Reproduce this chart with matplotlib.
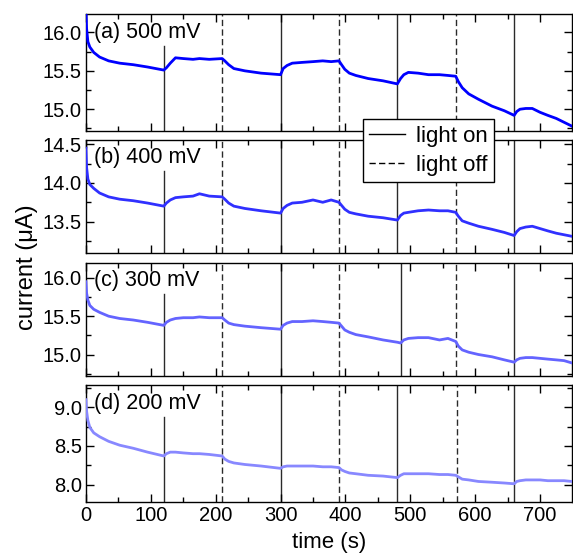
"""Photocurrent response of the electrode at four bias voltages.

Four stacked panels share the time axis; vertical lines mark the moments
the light was switched on (solid) and off (dashed).
"""

from __future__ import annotations

import matplotlib

matplotlib.use("Agg")

import matplotlib.pyplot as plt
from matplotlib.axes import Axes
from matplotlib.lines import Line2D
from matplotlib.ticker import MultipleLocator

# --- Data ------------------------------------------------------------------

TIME_S = [
    0, 1, 3, 6, 12, 21, 35, 52, 73, 95,
    120, 124, 130, 138, 150, 165, 175, 190, 210, 214,
    220, 228, 245, 270, 300, 304, 310, 318, 333, 350,
    365, 378, 390, 394, 399, 406, 416, 435, 458, 480,
    485, 490, 497, 512, 528, 545, 558, 570, 574, 580,
    590, 605, 626, 645, 660, 664, 669, 678, 688, 700,
    712, 725, 737, 749,
]

CURRENT_500MV = [
    16.30, 16.05, 15.88, 15.81, 15.74, 15.68, 15.63, 15.60, 15.58, 15.55,
    15.51, 15.54, 15.60, 15.67, 15.66, 15.65, 15.66, 15.65, 15.66, 15.63,
    15.58, 15.53, 15.50, 15.47, 15.45, 15.53, 15.57, 15.60, 15.61, 15.62,
    15.63, 15.62, 15.63, 15.58, 15.52, 15.47, 15.44, 15.40, 15.37, 15.33,
    15.40, 15.45, 15.48, 15.47, 15.45, 15.45, 15.44, 15.43, 15.36, 15.28,
    15.20, 15.13, 15.04, 14.98, 14.92, 14.97, 15.00, 15.01, 15.01, 14.96,
    14.92, 14.88, 14.83, 14.78,
]

CURRENT_400MV = [
    14.45, 14.20, 14.05, 13.98, 13.93, 13.87, 13.82, 13.79, 13.77, 13.74,
    13.70, 13.74, 13.78, 13.81, 13.82, 13.83, 13.86, 13.83, 13.82, 13.79,
    13.74, 13.70, 13.67, 13.64, 13.61, 13.67, 13.71, 13.74, 13.75, 13.78,
    13.75, 13.78, 13.75, 13.71, 13.66, 13.62, 13.60, 13.57, 13.55, 13.52,
    13.58, 13.61, 13.62, 13.64, 13.65, 13.64, 13.64, 13.62, 13.57, 13.51,
    13.48, 13.44, 13.40, 13.36, 13.32, 13.37, 13.41, 13.43, 13.44, 13.41,
    13.38, 13.35, 13.33, 13.31,
]

CURRENT_300MV = [
    15.95, 15.80, 15.71, 15.64, 15.59, 15.55, 15.50, 15.47, 15.45, 15.42,
    15.38, 15.42, 15.45, 15.47, 15.48, 15.48, 15.49, 15.48, 15.48, 15.45,
    15.41, 15.39, 15.37, 15.35, 15.33, 15.38, 15.41, 15.43, 15.43, 15.44,
    15.43, 15.42, 15.41, 15.37, 15.32, 15.29, 15.26, 15.23, 15.19, 15.16,
    15.15, 15.19, 15.21, 15.22, 15.22, 15.19, 15.21, 15.17, 15.11, 15.06,
    15.03, 15.00, 14.97, 14.93, 14.90, 14.93, 14.95, 14.96, 14.96, 14.95,
    14.94, 14.93, 14.92, 14.89,
]

CURRENT_200MV = [
    9.10, 8.95, 8.83, 8.74, 8.67, 8.62, 8.56, 8.51, 8.47, 8.42,
    8.37, 8.40, 8.42, 8.42, 8.41, 8.40, 8.40, 8.39, 8.37, 8.33,
    8.30, 8.28, 8.26, 8.24, 8.21, 8.23, 8.24, 8.24, 8.24, 8.24,
    8.23, 8.23, 8.22, 8.19, 8.17, 8.15, 8.14, 8.12, 8.11, 8.09,
    8.12, 8.14, 8.14, 8.14, 8.14, 8.13, 8.13, 8.12, 8.10, 8.07,
    8.06, 8.04, 8.03, 8.02, 8.01, 8.04, 8.05, 8.06, 8.06, 8.06,
    8.05, 8.05, 8.05, 8.04,
]

PANEL_LABELS = ["(a) 500 mV", "(b) 400 mV", "(c) 300 mV", "(d) 200 mV"]
CURRENTS = [CURRENT_500MV, CURRENT_400MV, CURRENT_300MV, CURRENT_200MV]

LIGHT_ON = [
    [120, 300, 480, 660],
    [120, 300, 480, 660],
    [120, 300, 485, 660],
    [120, 300, 480, 660],
]
LIGHT_OFF = [
    [210, 390, 570],
    [210, 390, 570],
    [210, 390, 570],
    [210, 390, 572],
]

# --- Styling ---------------------------------------------------------------

TRACE_COLORS = ["#0000ff", "#3030ff", "#6464ff", "#8888ff"]
Y_LIMITS = [(14.72, 16.24), (13.09, 14.555), (14.72, 16.19), (7.77, 9.29)]

# [left, bottom, width, height] in figure fractions
AX_LEFT = 0.150
AX_WIDTH = 0.848
AX_ROWS = [(0.7653, 0.2095), (0.5452, 0.2034), (0.3250, 0.2023), (0.0982, 0.2106)]

X_MAX = 749
MARKER_COLOR = "#2a2a2a"
DASHES = (4.5, 2.4)
FONT = "Liberation Sans"

plt.rcParams["font.family"] = [FONT, "DejaVu Sans"]
plt.rcParams["axes.linewidth"] = 1.0


def style_axis(ax: Axes, ylim: tuple[float, float], show_xlabels: bool) -> None:
    ax.set_xlim(0, X_MAX)
    ax.set_ylim(*ylim)
    ax.xaxis.set_major_locator(MultipleLocator(100))
    ax.xaxis.set_minor_locator(MultipleLocator(50))
    ax.yaxis.set_major_locator(MultipleLocator(0.5))
    ax.yaxis.set_minor_locator(MultipleLocator(0.25))
    ax.tick_params(which="both", direction="in", top=True, right=True, width=1.0)
    ax.tick_params(which="major", length=5.5, labelsize=14.5, pad=3)
    ax.tick_params(which="minor", length=3.5)
    ax.yaxis.set_major_formatter(plt.FormatStrFormatter("%.1f"))
    if not show_xlabels:
        ax.tick_params(labelbottom=False)


def draw_light_markers(ax: Axes, on_times: list[float], off_times: list[float]) -> None:
    # the first switch-on line stops short so it clears the panel label
    for i, t in enumerate(on_times):
        ymax = 0.73 if i == 0 else 1.0
        ax.axvline(t, ymin=0, ymax=ymax, color=MARKER_COLOR, lw=1.0, zorder=1)
    for t in off_times:
        ax.axvline(t, color=MARKER_COLOR, lw=1.0, dashes=DASHES, zorder=1)


def main() -> None:
    fig = plt.figure(figsize=(5.73, 5.57), dpi=100)

    axes = []
    for row, (bottom, height) in enumerate(AX_ROWS):
        ax = fig.add_axes([AX_LEFT, bottom, AX_WIDTH, height])
        style_axis(ax, Y_LIMITS[row], show_xlabels=(row == len(AX_ROWS) - 1))
        draw_light_markers(ax, LIGHT_ON[row], LIGHT_OFF[row])
        ax.plot(TIME_S, CURRENTS[row], color=TRACE_COLORS[row], lw=2.0, zorder=3)
        ax.text(0.017, 0.845, PANEL_LABELS[row], transform=ax.transAxes,
                ha="left", va="center", fontsize=15.5)
        axes.append(ax)

    axes[-1].set_xlabel("time (s)", fontsize=16, labelpad=5)
    fig.text(0.047, 0.52, "current (μA)", rotation=90, ha="center", va="center",
             fontsize=17)

    handles = [
        Line2D([], [], color="black", lw=1.0),
        Line2D([], [], color="black", lw=1.0, dashes=DASHES),
    ]
    leg = fig.legend(handles, ["light on", "light off"], loc="upper left",
                     bbox_to_anchor=(0.633, 0.786), fontsize=16, frameon=True,
                     fancybox=False, framealpha=1.0, edgecolor="black",
                     handlelength=1.6, handletextpad=0.5, borderpad=0.3,
                     labelspacing=0.35, borderaxespad=0)
    leg.get_frame().set_linewidth(1.0)

    fig.savefig("out.png", dpi=100)
    plt.close(fig)


if __name__ == "__main__":
    main()
